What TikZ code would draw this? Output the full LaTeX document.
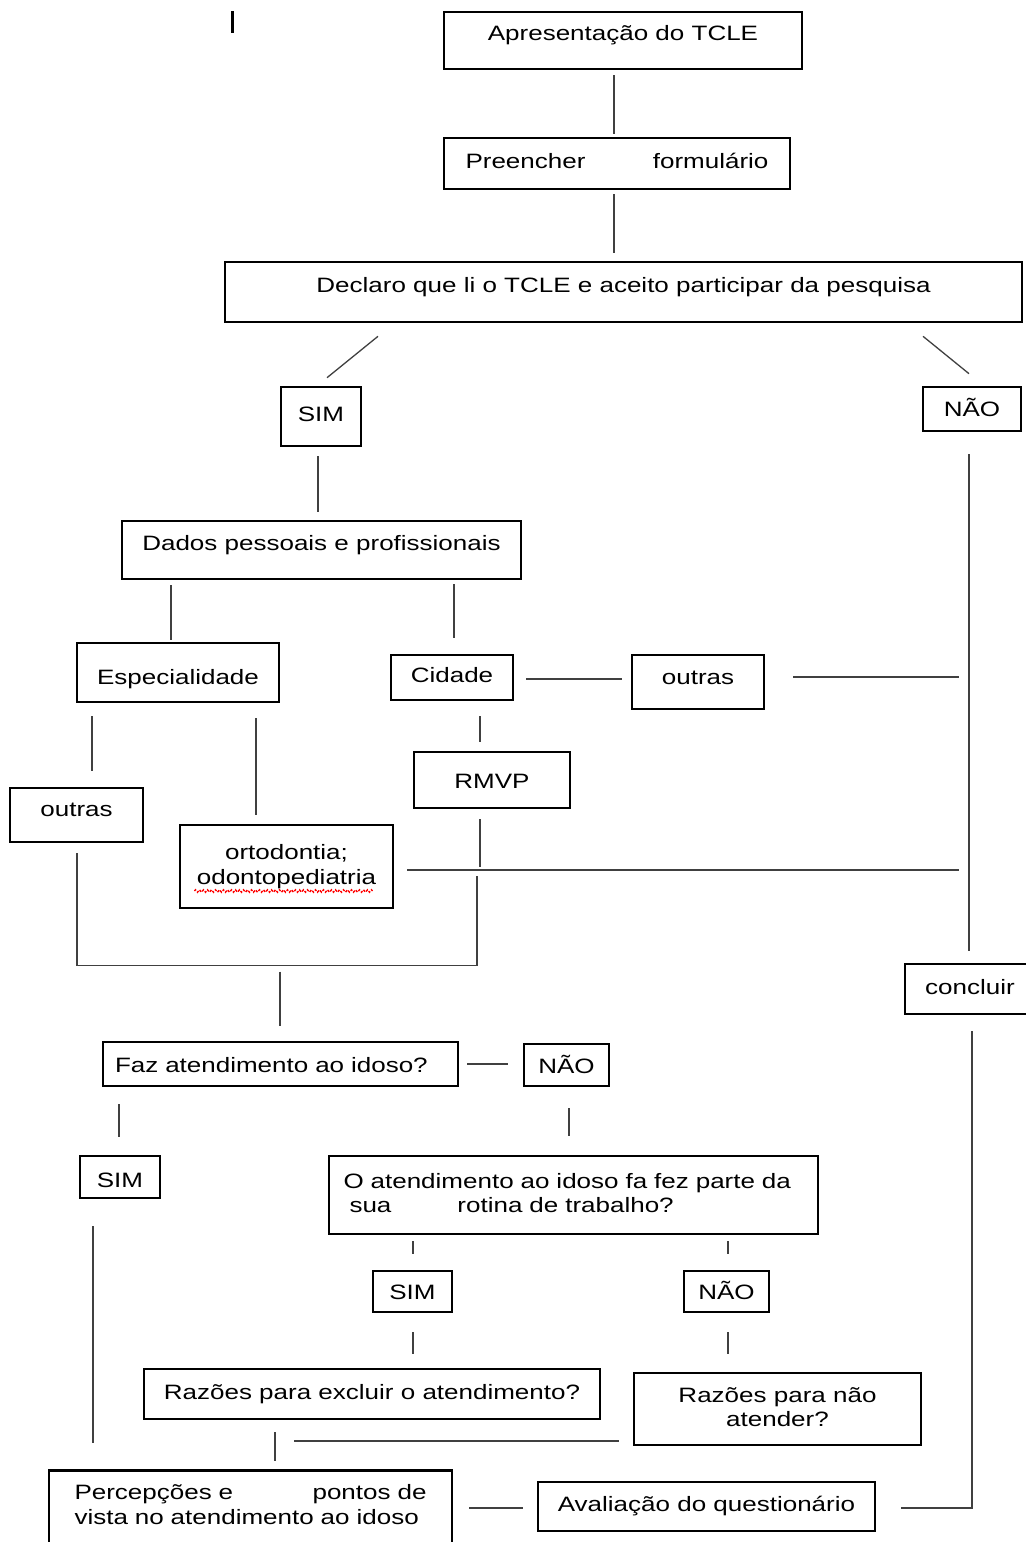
\documentclass[tikz,border=0pt]{standalone}
\usepackage{fontspec}
\setmainfont{Liberation Sans}[FakeStretch=1.25]
\usetikzlibrary{calc,decorations.pathmorphing,positioning}
\tikzset{box/.style={draw, line width=1.3pt, inner sep=0pt, text height=7.5pt, text depth=2.2pt,
    font=\fontsize{10.4}{12.2}\selectfont}}
\tikzset{link/.style={line width=0.65pt, black!75}}
\tikzset{squiggle/.style={red, line width=0.7pt, dash pattern=on 1.2pt off 0.8pt, decorate, decoration={zigzag, segment length=2pt, amplitude=0.6pt}}}

\begin{document}
\begin{tikzpicture}[x=0.5pt,y=-0.5pt]
      \useasboundingbox (0,0) rectangle (1026,1542);
      \clip (0,0) rectangle (1026,1542);
      \draw[line width=1.5pt] (232,11) -- (232,33);
      \node[box, minimum width=179pt, minimum height=28.5pt, text depth=7.1pt] (apr) at (623,40.5) {Apresentação do TCLE};
      \node[box, minimum width=173pt, minimum height=25.5pt] (pre) at (617,163.5) {\makebox[151.5pt]{Preencher\hfill formulário}};
      \node[box, minimum width=398.5pt, minimum height=30pt, text depth=6.6pt] (decl) at (623.5,292) {Declaro que li o TCLE e aceito participar da pesquisa};
      \node[box, minimum width=40pt, minimum height=29.5pt] (sim1) at (321,416.5) {SIM};
      \node[box, minimum width=49pt, minimum height=22pt, text height=10.1pt] (nao1) at (972,409) {NÃO};
      \node[box, minimum width=199.5pt, minimum height=29pt, text depth=6.6pt] (dados) at (321.5,550) {Dados pessoais e profissionais};
      \node[box, minimum width=101pt, minimum height=29.5pt, text height=14.3pt] (esp) at (178,672.5) {Especialidade};
      \node[box, minimum width=61pt, minimum height=22.5pt] (cid) at (452,677.5) {Cidade};
      \node[box, minimum width=66pt, minimum height=27pt, text depth=4.9pt] (out1) at (698,682) {outras};
      \node[box, minimum width=78pt, minimum height=28pt, text height=11pt] (rmvp) at (492,780) {RMVP};
      \node[box, minimum width=66.5pt, minimum height=27pt, text depth=5.6pt] (out2) at (76.5,815) {outras};
      \node[box, minimum width=106.5pt, minimum height=41.5pt, text height=19.7pt, align=center] (orto) at (286.5,866.5) {ortodontia;\\odontopediatria};
      \node[box, minimum width=65pt, minimum height=25pt] (concl) at (970,989) {concluir};
      \node[box, minimum width=177.5pt, minimum height=22pt, text height=10.5pt, text width=165.5pt, align=left] (faz) at (280.5,1064) {Faz atendimento ao idoso?};
      \node[box, minimum width=42.5pt, minimum height=21pt, text height=10.8pt] (nao2) at (566.5,1065) {NÃO};
      \node[box, minimum width=40pt, minimum height=21pt, text height=12.3pt] (sim2) at (120,1177) {SIM};
      \node[box, minimum width=244.5pt, minimum height=39pt, text depth=14.4pt, text width=230pt, align=left] (oat) at (573.5,1195)
        {O atendimento ao idoso fa fez parte da\\\hspace*{3pt}\makebox[54pt][l]{sua}rotina de trabalho?};
      \node[box, minimum width=39.5pt, minimum height=20.5pt, text height=10.2pt] (sim3) at (412.5,1291.5) {SIM};
      \node[box, minimum width=42.5pt, minimum height=20.5pt, text height=10.2pt] (nao3) at (726.5,1291.5) {NÃO};
      \node[box, minimum width=228pt, minimum height=25pt] (rex) at (372,1394) {Razões para excluir o atendimento?};
      \node[box, minimum width=143.5pt, minimum height=36pt, text height=19.7pt, align=center] (rna) at (777.5,1409) {Razões para não\\atender?};
      \node[box, anchor=north, minimum width=201.5pt, text height=14.65pt, text depth=45pt, text width=176pt, align=left] (perc) at (250.5,1469)
        {Percepções e\hfill pontos de\\vista no atendimento ao idoso};
      \node[box, minimum width=168.5pt, minimum height=24.5pt] (aval) at (706.5,1506.5) {Avaliação do questionário};
      \draw[squiggle] ($(orto.center)+(-92,24.5)$) -- ($(orto.center)+(86,24.5)$);
      \draw[link] ($(apr.south -| pre.north)+(-3,5)$) -- ($(pre.north)+(-3,-3)$);
      \draw[link] ($(pre.south)+(-3,4)$) -- ($(pre.south |- decl.north)+(-3,-8)$);
      \draw[link] ($(sim1.north |- decl.south)+(57,13)$) -- ($(sim1.north)+(6,-8)$);
      \draw[link] ($(nao1.north |- decl.south)+(-49,13)$) -- ($(nao1.north)+(-3,-12)$);
      \draw[link] ($(sim1.south)+(-3,9)$) -- ($(dados.north)+(-3.5,-8)$);
      \draw[link] ($(esp.north |- dados.south)+(-7,5)$) -- ($(esp.north)+(-7,-2)$);
      \draw[link] ($(cid.north |- dados.south)+(2,4)$) -- ($(cid.north)+(2,-16)$);
      \draw[link] ($(cid.east)+(12,1.5)$) -- ($(out1.west)+(-9,-3)$);
      \draw[link] ($(out1.east)+(28,-5)$) -- ($(out1.east -| nao1.south)+(-13,-5)$);
      \draw[link] ($(nao1.south)+(-3,22)$) -- ($(concl.north)+(-1,-12)$);
      \draw[link] ($(out2.north |- esp.south)+(15.5,13)$) -- ($(out2.north)+(15.5,-16)$);
      \draw[link] ($(orto.north |- esp.south)+(-30.5,15)$) -- ($(orto.north)+(-30.5,-9)$);
      \draw[link] ($(rmvp.north |- cid.south)+(-12,15)$) -- ($(rmvp.north)+(-12,-9)$);
      \draw[link] ($(rmvp.south)+(-12,10)$) -- ($(rmvp.south)+(-12,58)$);
      \draw[link] ($(out2.south)+(0.5,10)$) |- ($(rmvp.south)+(-15,156)$) -- ($(rmvp.south)+(-15,67)$);
      \draw[link] ($(orto.east)+(13,3.5)$) -- ($(orto.east -| nao1.south)+(-13,3.5)$);
      \draw[link] ($(faz.north)+(-0.5,-69)$) -- ($(faz.north)+(-0.5,-15)$);
      \draw[link] ($(concl.south)+(2,16)$) |- ($(aval.east)+(25,1.5)$);
      \draw[link] ($(faz.east)+(8,0)$) -- ($(nao2.west)+(-15,-1)$);
      \draw[link] ($(sim2.north |- faz.south)+(-1,17)$) -- ($(sim2.north)+(-1,-18)$);
      \draw[link] ($(nao2.south)+(2.5,21)$) -- ($(nao2.south |- oat.north)+(2.5,-19)$);
      \draw[link] ($(sim2.south)+(-27,27)$) -- ($(sim2.south |- perc.north)+(-27,-26)$);
      \draw[link] ($(sim3.north |- oat.south)+(0.5,6)$) -- ($(sim3.north)+(0.5,-16)$);
      \draw[link] ($(nao3.north |- oat.south)+(1.5,6)$) -- ($(nao3.north)+(1.5,-16)$);
      \draw[link] ($(sim3.south)+(0.5,19)$) -- ($(sim3.south |- rex.north)+(0.5,-14)$);
      \draw[link] ($(nao3.south)+(1.5,19)$) -- ($(nao3.south |- rna.north)+(1.5,-18)$);
      \draw[link] ($(rex.south)+(-97,12)$) -- ($(rex.south |- perc.north)+(-97,-8)$);
      \draw[link] ($(rna.west)+(-14,32)$) -- ($(rna.west -| rex.south)+(-78,32)$);
      \draw[link] ($(perc.north east |- aval.west)+(16,1.5)$) -- ($(aval.west)+(-14,1.5)$);
    \end{tikzpicture}
\end{document}
